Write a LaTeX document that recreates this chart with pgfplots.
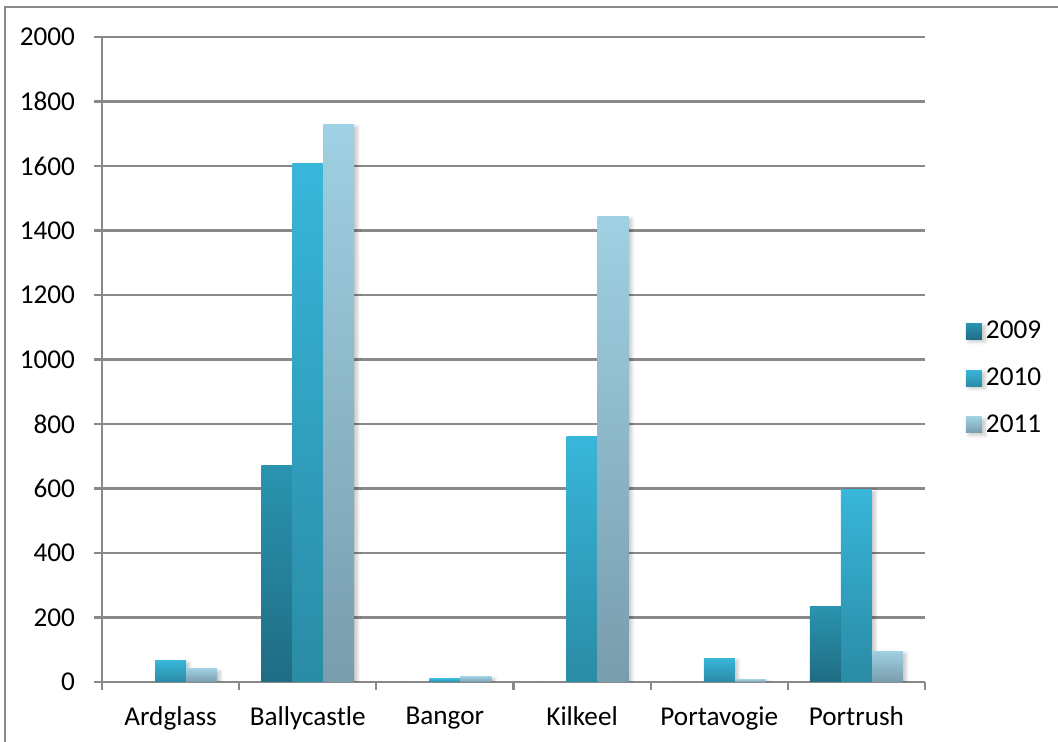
\documentclass[border=0pt]{standalone}
\usepackage{pgfplots}
\pgfplotsset{compat=1.18}
\usepackage{fontspec}
\setmainfont{Carlito}
\usetikzlibrary{shadows.blur}

\definecolor{linegray}{HTML}{898989}
\definecolor{aTop}{HTML}{2A94AF}
\definecolor{aBot}{HTML}{1F6C83}
\definecolor{bTop}{HTML}{38B6DA}
\definecolor{bBot}{HTML}{2A8BA5}
\definecolor{cTop}{HTML}{A0D0E3}
\definecolor{cBot}{HTML}{789DAD}

\newcommand{\lblfont}{\fontsize{13.6}{16}\selectfont}

% every bar is its own plot so that each one carries its own gradient
\pgfplotsset{
  barshadow/.style={blur shadow={shadow xshift=1.6pt, shadow yshift=-1.2pt,
      shadow blur steps=6, shadow blur radius=1.6pt, shadow opacity=22}},
  y2009/.style={bar shift=-0.226, top color=aTop, bottom color=aBot},
  y2010/.style={bar shift=0, top color=bTop, bottom color=bBot},
  y2011/.style={bar shift=0.226, top color=cTop, bottom color=cBot},
}

\begin{document}
\begin{tikzpicture}[x=1pt,y=1pt]
  \useasboundingbox (-51,-30) rectangle (478,341);
  % chart area frame
  \draw[linegray, line width=0.8pt] (-48.5,337.5) rectangle (490,-40);
  \begin{axis}[
    at={(0,0)}, anchor=south west,
    scale only axis,
    width=411.5pt, height=322.5pt,
    ybar, bar width=0.226,
    xmin=-0.5, xmax=5.5,
    ymin=0, ymax=2000,
    ytick={0,200,...,2000},
    ymajorgrids,
    grid style={linegray, line width=1.1pt},
    axis x line*=bottom, axis y line*=left,
    axis line style={linegray, line width=1.1pt, -},
    tick align=outside,
    major tick length=4pt,
    tick style={linegray, line width=1.1pt},
    xtick={-0.5,0.5,...,5.5},
    xticklabels={},
    extra x ticks={0,1,2,3,4,5},
    extra x tick labels={Ardglass,Ballycastle,Bangor,Kilkeel,Portavogie,Portrush},
    extra x tick style={major tick length=0pt, grid=none},
    tick label style={font=\lblfont},
    /pgf/number format/assume math mode=true,
    /pgf/number format/1000 sep={},
    yticklabel style={xshift=-6pt},
    xticklabel style={yshift=-9pt},
    legend style={at={(1.042,0.471)}, anchor=west, draw=none, fill=none,
      font=\lblfont, row sep=9pt,
      /tikz/every even column/.append style={column sep=3.5pt}},
    legend cell align=left,
    every axis plot/.append style={draw=none},
  ]
    % 2009
    \addplot[y2009, barshadow,
      legend image code/.code={\shade[top color=aTop, bottom color=aBot] (0pt,-4pt) rectangle (8pt,4pt);}]
      coordinates {(0,0)};
    \addlegendentry{2009}
    \addplot[y2009, barshadow, forget plot] coordinates {(1,670)};
    \addplot[y2009, barshadow, forget plot] coordinates {(2,0)};
    \addplot[y2009, barshadow, forget plot] coordinates {(3,0)};
    \addplot[y2009, barshadow, forget plot] coordinates {(4,0)};
    \addplot[y2009, barshadow, forget plot] coordinates {(5,233)};
    % 2010
    \addplot[y2010, barshadow,
      legend image code/.code={\shade[top color=bTop, bottom color=bBot] (0pt,-4pt) rectangle (8pt,4pt);}]
      coordinates {(0,66)};
    \addlegendentry{2010}
    \addplot[y2010, barshadow, forget plot] coordinates {(1,1608)};
    \addplot[y2010, barshadow, forget plot] coordinates {(2,10)};
    \addplot[y2010, barshadow, forget plot] coordinates {(3,760)};
    \addplot[y2010, barshadow, forget plot] coordinates {(4,74)};
    \addplot[y2010, barshadow, forget plot] coordinates {(5,598)};
    % 2011
    \addplot[y2011, barshadow,
      legend image code/.code={\shade[top color=cTop, bottom color=cBot] (0pt,-4pt) rectangle (8pt,4pt);}]
      coordinates {(0,41)};
    \addlegendentry{2011}
    \addplot[y2011, barshadow, forget plot] coordinates {(1,1730)};
    \addplot[y2011, barshadow, forget plot] coordinates {(2,17)};
    \addplot[y2011, barshadow, forget plot] coordinates {(3,1444)};
    \addplot[y2011, barshadow, forget plot] coordinates {(4,9)};
    \addplot[y2011, barshadow, forget plot] coordinates {(5,96)};
  \end{axis}
\end{tikzpicture}
\end{document}
